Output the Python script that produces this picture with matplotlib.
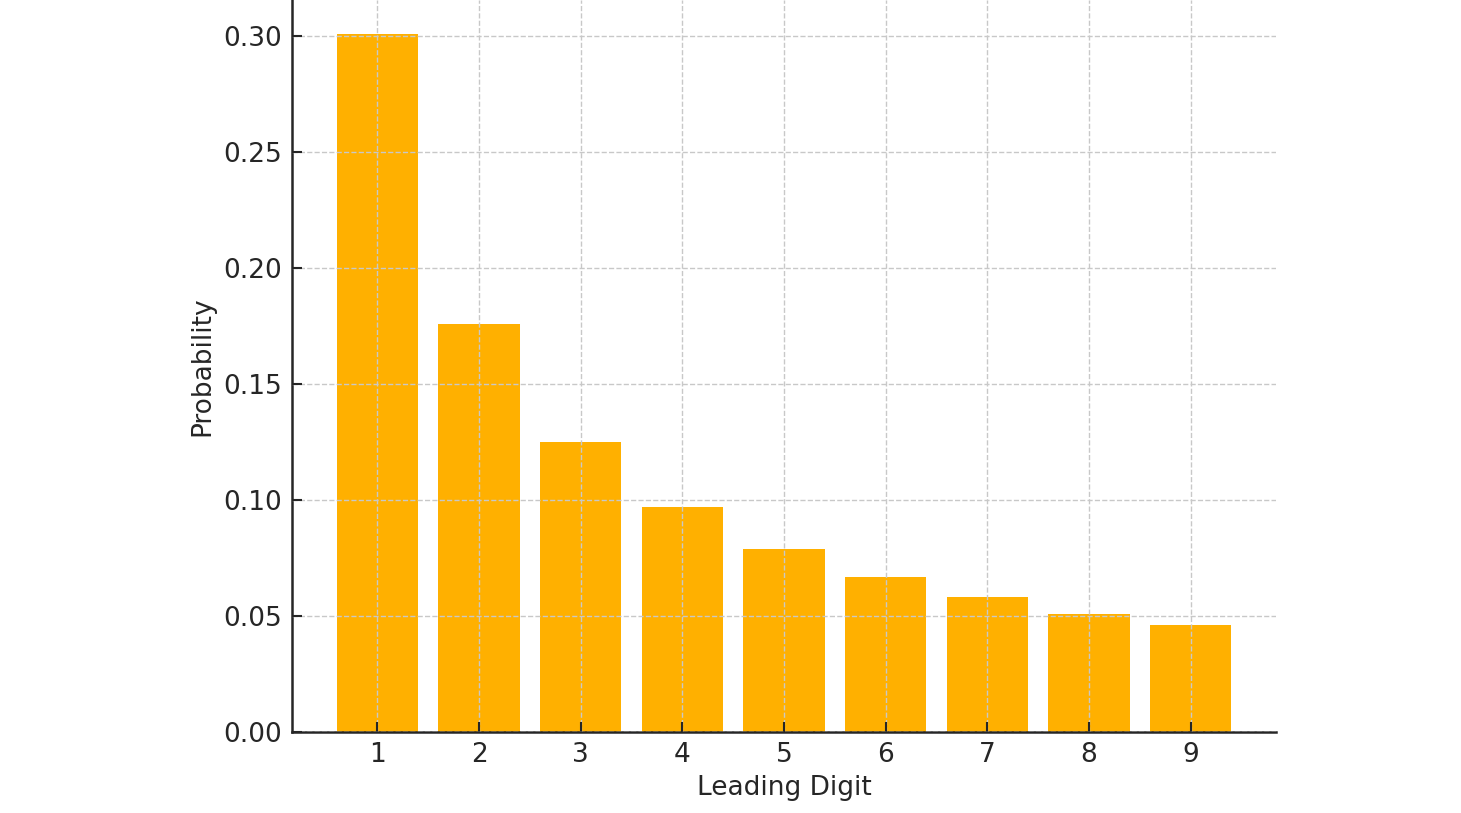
import matplotlib
matplotlib.use("Agg")
import matplotlib.pyplot as plt

digits = [1, 2, 3, 4, 5, 6, 7, 8, 9]
probabilities = [0.301, 0.176, 0.125, 0.097, 0.079, 0.067, 0.058, 0.051, 0.046]
yticks = [0.00, 0.05, 0.10, 0.15, 0.20, 0.25, 0.30]

plt.rcParams['font.family'] = ['DejaVu Sans']
fig = plt.figure(figsize=(14.61, 8.13), dpi=100)
ax = fig.add_axes([292/1461, 1 - 732/813, (1276-292)/1461, 732/813])

ax.bar(digits, probabilities, width=0.8, color='#FFB000', zorder=2)
ax.set_xlim(0.16, 9.84)
ax.set_ylim(0, 0.3155)
ax.set_xticks(digits)
ax.set_yticks(yticks)
ax.set_yticklabels([f"{v:.2f}" for v in yticks])
ax.grid(True, linestyle='--', color='#c8c8c8', linewidth=1.0, zorder=0)
ax.set_axisbelow(False)
for side in ['top', 'right']:
    ax.spines[side].set_visible(False)
for side in ['left', 'bottom']:
    ax.spines[side].set_color('#262626')
    ax.spines[side].set_linewidth(1.8)
ax.tick_params(direction='in', length=7, width=1.5, colors='#262626',
               labelsize=19, labelcolor='#262626', pad=7)
ax.set_xlabel('Leading Digit', fontsize=19, color='#262626', labelpad=5)
ax.set_ylabel('Probability', fontsize=19, color='#262626', labelpad=6)

fig.savefig('out.png', dpi=100)
